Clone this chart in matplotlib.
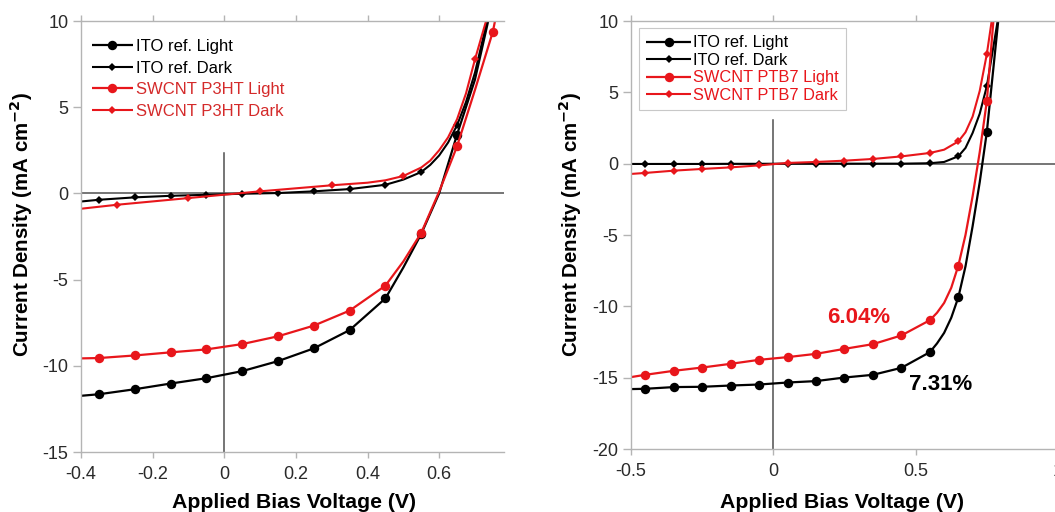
import numpy as np
import matplotlib
matplotlib.use("Agg")
import matplotlib.pyplot as plt
from matplotlib.ticker import FuncFormatter

plt.rcParams['font.family'] = ['Liberation Sans', 'DejaVu Sans']
plt.rcParams['axes.unicode_minus'] = False

# ---------------- P3HT devices (left panel) ----------------
p3ht_ito_light_V = [-0.40, -0.35, -0.25, -0.15, -0.05, 0.05, 0.15, 0.25, 0.35, 0.45, 0.50, 0.55, 0.60, 0.65, 0.70, 0.737]
p3ht_ito_light_J = [-11.74, -11.65, -11.36, -11.03, -10.72, -10.31, -9.73, -8.99, -7.93, -6.09, -4.30, -2.35, 0.00, 3.41, 6.60, 10.0]

p3ht_ito_dark_V = [-0.40, -0.35, -0.25, -0.15, -0.05, 0.05, 0.15, 0.25, 0.35, 0.45, 0.50, 0.55, 0.575, 0.60, 0.625, 0.65, 0.675, 0.70, 0.734]
p3ht_ito_dark_J = [-0.47, -0.37, -0.23, -0.14, -0.08, -0.02, 0.02, 0.12, 0.25, 0.50, 0.80, 1.24, 1.65, 2.20, 2.95, 3.95, 5.30, 7.00, 10.0]

p3ht_cnt_light_V = [-0.40, -0.35, -0.25, -0.15, -0.05, 0.05, 0.15, 0.25, 0.35, 0.45, 0.50, 0.55, 0.60, 0.65, 0.70, 0.75, 0.756]
p3ht_cnt_light_J = [-9.57, -9.55, -9.40, -9.22, -9.05, -8.74, -8.29, -7.67, -6.80, -5.35, -3.95, -2.29, 0.10, 2.73, 6.00, 9.38, 10.0]

p3ht_cnt_dark_V = [-0.40, -0.30, -0.10, 0.10, 0.30, 0.40, 0.45, 0.50, 0.55, 0.575, 0.60, 0.625, 0.65, 0.675, 0.70, 0.731]
p3ht_cnt_dark_J = [-0.89, -0.66, -0.27, 0.12, 0.47, 0.62, 0.76, 1.01, 1.50, 1.90, 2.50, 3.25, 4.30, 5.80, 7.77, 10.0]

p3ht_light_marks = [-0.35, -0.25, -0.15, -0.05, 0.05, 0.15, 0.25, 0.35, 0.45, 0.55, 0.65, 0.75]
p3ht_cnt_dark_marks = [-0.30, -0.10, 0.10, 0.30, 0.50, 0.70]

# ---------------- PTB7 devices (right panel) ----------------
ptb7_ito_light_V = [-0.50, -0.45, -0.35, -0.25, -0.15, -0.05, 0.05, 0.15, 0.25, 0.35, 0.45, 0.55, 0.575, 0.60, 0.625, 0.65, 0.675, 0.70, 0.725, 0.75, 0.79]
ptb7_ito_light_J = [-15.80, -15.78, -15.66, -15.64, -15.55, -15.48, -15.34, -15.24, -14.99, -14.80, -14.31, -13.21, -12.60, -11.86, -10.80, -9.36, -7.20, -4.39, -1.30, 2.22, 10.0]

ptb7_ito_dark_V = [-0.50, -0.45, -0.35, -0.25, -0.15, -0.05, 0.05, 0.15, 0.25, 0.35, 0.45, 0.55, 0.60, 0.65, 0.675, 0.70, 0.725, 0.75, 0.788]
ptb7_ito_dark_J = [-0.02, -0.02, -0.02, -0.02, -0.01, -0.01, 0.00, 0.00, 0.00, 0.00, 0.00, 0.03, 0.12, 0.52, 1.10, 2.15, 3.50, 5.43, 10.0]

ptb7_cnt_light_V = [-0.50, -0.45, -0.35, -0.25, -0.15, -0.05, 0.05, 0.15, 0.25, 0.35, 0.45, 0.55, 0.575, 0.60, 0.625, 0.65, 0.675, 0.70, 0.725, 0.75, 0.773]
ptb7_cnt_light_J = [-14.96, -14.80, -14.52, -14.29, -14.03, -13.75, -13.56, -13.33, -12.98, -12.65, -12.04, -10.97, -10.45, -9.76, -8.70, -7.14, -5.00, -2.29, 0.80, 4.38, 10.0]

ptb7_cnt_dark_V = [-0.50, -0.45, -0.35, -0.25, -0.15, -0.05, 0.05, 0.15, 0.25, 0.35, 0.45, 0.55, 0.60, 0.65, 0.675, 0.70, 0.725, 0.75, 0.767]
ptb7_cnt_dark_J = [-0.72, -0.65, -0.49, -0.37, -0.26, -0.12, 0.05, 0.12, 0.21, 0.33, 0.51, 0.75, 0.98, 1.56, 2.20, 3.30, 5.10, 7.68, 10.0]

ptb7_marks = [-0.45, -0.35, -0.25, -0.15, -0.05, 0.05, 0.15, 0.25, 0.35, 0.45, 0.55, 0.65, 0.75]

# efficiency labels: (text, V, J)
pce_cnt = ("6.04%", 0.30, -10.78)
pce_ito = ("7.31%", 0.586, -15.48)

p3ht_xticks = [-0.4, -0.2, 0, 0.2, 0.4, 0.6]
p3ht_yticks = [-15, -10, -5, 0, 5, 10]
ptb7_xticks = [-0.5, 0, 0.5, 1.0]
ptb7_yticks = [-20, -15, -10, -5, 0, 5, 10]

RED = '#e8161b'
BLACK = '#000000'
SPINE = '#b4b4b4'
ZERO = '#505050'


def mark_idx(V, marks):
    V = np.round(np.asarray(V), 3)
    m = np.round(np.asarray(marks), 3)
    return [i for i, v in enumerate(V) if v in m]


def series(ax, V, J, marks, color, light, label):
    if light:
        kw = dict(marker='o', markersize=6.8, lw=1.6)
    else:
        kw = dict(marker='D', markersize=3.6, lw=1.5)
    ax.plot(V, J, color=color, markevery=mark_idx(V, marks), label=label,
            markeredgewidth=0, solid_capstyle='butt', solid_joinstyle='round', **kw)


def style(ax, xlim, ylim, xticks, yticks, vtop):
    ax.set_xlim(*xlim)
    ax.set_ylim(*ylim)
    ax.set_xticks(xticks)
    ax.set_yticks(yticks)
    fmt = FuncFormatter(lambda v, p: f"{v:g}")
    ax.xaxis.set_major_formatter(fmt)
    ax.yaxis.set_major_formatter(fmt)
    for s in ('left', 'bottom', 'top'):
        ax.spines[s].set_color(SPINE)
        ax.spines[s].set_linewidth(1.0)
    ax.spines['right'].set_visible(False)
    ax.tick_params(axis='both', direction='out', color=SPINE, labelcolor='#2a2a2a',
                   labelsize=13, width=1.0)
    ax.tick_params(axis='x', top=True, length=4, pad=6)
    ax.tick_params(axis='y', length=6, pad=3)
    ax.axhline(0, color=ZERO, lw=1.1, zorder=1)
    ax.plot([0, 0], [ylim[0], vtop], color=ZERO, lw=1.1, zorder=1)


W, H = 1055, 512
fig = plt.figure(figsize=(W / 100, H / 100), dpi=100)

# left panel
axL = fig.add_axes([81 / W, 1 - 452 / H, (503.6 - 81) / W, (452 - 21) / H])
style(axL, (-0.4, 0.78), (-15, 10), p3ht_xticks, p3ht_yticks, 2.33)
series(axL, p3ht_ito_light_V, p3ht_ito_light_J, p3ht_light_marks, BLACK, True, 'ITO ref. Light')
series(axL, p3ht_ito_dark_V, p3ht_ito_dark_J, p3ht_light_marks, BLACK, False, 'ITO ref. Dark')
series(axL, p3ht_cnt_light_V, p3ht_cnt_light_J, p3ht_light_marks, RED, True, 'SWCNT P3HT Light')
series(axL, p3ht_cnt_dark_V, p3ht_cnt_dark_J, p3ht_cnt_dark_marks, RED, False, 'SWCNT P3HT Dark')
legL = axL.legend(loc='upper left', bbox_to_anchor=(92 / W, 1 - 39 / H), bbox_transform=fig.transFigure,
                  frameon=False, fontsize=12, handlelength=2.45, handletextpad=0.2,
                  labelspacing=0.4, borderpad=0, borderaxespad=0,
                  labelcolor=[BLACK, BLACK, '#d42a2a', '#d42a2a'])

# right panel
axR = fig.add_axes([631 / W, 1 - 449 / H, (1058 - 631) / W, (449 - 21) / H])
style(axR, (-0.5, 1.0), (-20, 10), ptb7_xticks, ptb7_yticks, 3.08)
series(axR, ptb7_ito_light_V, ptb7_ito_light_J, ptb7_marks, BLACK, True, 'ITO ref. Light')
series(axR, ptb7_ito_dark_V, ptb7_ito_dark_J, ptb7_marks, BLACK, False, 'ITO ref. Dark')
series(axR, ptb7_cnt_light_V, ptb7_cnt_light_J, ptb7_marks, RED, True, 'SWCNT PTB7 Light')
series(axR, ptb7_cnt_dark_V, ptb7_cnt_dark_J, ptb7_marks, RED, False, 'SWCNT PTB7 Dark')
legR = axR.legend(loc='upper left', bbox_to_anchor=(639 / W, 1 - 28 / H), bbox_transform=fig.transFigure,
                  frameon=True, fancybox=False, edgecolor='#c8c8c8', fontsize=11.8,
                  handlelength=2.75, handletextpad=0.12, labelspacing=0.15,
                  borderpad=0.45, borderaxespad=0, framealpha=1,
                  labelcolor=[BLACK, BLACK, RED, RED])
legR.get_frame().set_linewidth(0.8)

axR.text(pce_cnt[1], pce_cnt[2], pce_cnt[0], color=RED, fontsize=16, fontweight='bold',
         ha='center', va='center')
axR.text(pce_ito[1], pce_ito[2], pce_ito[0], color=BLACK, fontsize=16, fontweight='bold',
         ha='center', va='center')

# axis titles
ylab = 'Current Density (mA cm$^{\\mathbf{-2}}$)'
for xc in (21, 570):
    fig.text(xc / W, 1 - 224 / H, ylab, rotation=90, ha='center', va='center',
             fontsize=14.8, fontweight='bold')
for xc in (294, 842):
    fig.text(xc / W, 1 - 508 / H, 'Applied Bias Voltage (V)', ha='center', va='baseline',
             fontsize=15.3, fontweight='bold')

fig.savefig('out.png', dpi=100)
